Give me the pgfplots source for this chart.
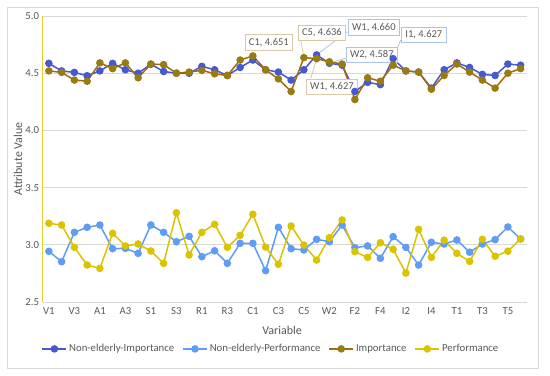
\documentclass[border=0pt]{standalone}
\usepackage{fontspec}
\setmainfont{Carlito}
\usepackage{pgfplots}
\usepackage{pgfplotstable}
\pgfplotsset{compat=1.18}
\definecolor{neimp}{HTML}{4659CF}
\definecolor{neperf}{HTML}{5E9CF5}
\definecolor{impl}{HTML}{A36A0E}
\definecolor{impm}{HTML}{9A7B10}
\definecolor{perf}{HTML}{DCC300}
\definecolor{txt}{HTML}{595959}
\definecolor{gridc}{HTML}{D9D9D9}
\definecolor{tanb}{HTML}{D9C9A8}
\definecolor{blueb}{HTML}{A9C4E8}
\definecolor{yaxis}{HTML}{E6CF2E}

\pgfplotstableread{
x  neimp  neperf imp   perf
0  4.586  2.943  4.520 3.188
1  4.520  2.852  4.507 3.173
2  4.507  3.109  4.440 2.978
3  4.478  3.153  4.430 2.823
4  4.520  3.173  4.590 2.794
5  4.586  2.966  4.540 3.100
6  4.530  2.969  4.590 2.990
7  4.500  2.925  4.460 3.007
8  4.578  3.173  4.580 2.946
9  4.515  3.109  4.575 2.838
10 4.500  3.027  4.500 3.280
11 4.500  3.074  4.510 2.911
12 4.560  2.896  4.525 3.109
13 4.530  2.948  4.495 3.179
14 4.480  2.838  4.480 2.978
15 4.550  3.013  4.615 3.083
16 4.615  3.013  4.651 3.267
17 4.530  2.774  4.530 2.980
18 4.510  3.153  4.450 2.830
19 4.440  2.966  4.340 3.164
20 4.530  2.955  4.636 2.998
21 4.660  3.048  4.627 2.867
22 4.587  3.027  4.600 3.062
23 4.570  3.173  4.580 3.217
24 4.340  2.975  4.270 2.940
25 4.420  2.990  4.460 2.890
26 4.400  2.882  4.430 3.018
27 4.627  3.071  4.570 2.960
28 4.520  2.978  4.520 2.753
29 4.510  2.823  4.510 3.135
30 4.370  3.022  4.360 2.890
31 4.530  3.007  4.480 3.040
32 4.590  3.042  4.580 2.925
33 4.550  2.935  4.510 2.855
34 4.490  3.007  4.440 3.048
35 4.480  3.045  4.370 2.900
36 4.580  3.156  4.500 2.944
37 4.570  3.051  4.540 3.051
}\datatable

\begin{document}
\begin{tikzpicture}
\useasboundingbox (0,0) rectangle (550bp,376bp);
\fill[white] (0,0) rectangle (550bp,376bp);
\draw[gridc, line width=0.8bp] (7bp,8bp) rectangle (538bp,369bp);
\begin{axis}[
  at={(42.5bp,74bp)}, anchor=south west,
  scale only axis, width=484.5bp, height=286bp,
  xmin=-0.5, xmax=37.5, ymin=2.5, ymax=5.0,
  xtick={0,2,...,36},
  xticklabels={V1,V3,A1,A3,S1,S3,R1,R3,C1,C3,C5,W2,F2,F4,I2,I4,T1,T3,T5},
  ytick={2.5,3.0,3.5,4.0,4.5,5.0},
  yticklabel style={/pgf/number format/.cd, fixed, fixed zerofill, precision=1, assume math mode=true},
  /pgf/number format/assume math mode=true,
  tick style={draw=none},
  ticklabel style={font=\fontsize{10.8}{13}\selectfont, text=txt},
  xticklabel style={yshift=-2bp},
  ymajorgrids, grid style={gridc, line width=0.8bp},
  axis line style={draw=none},
  clip=false,
  legend columns=4,
  legend style={at={(0.4716,-0.164)}, anchor=center, draw=none, fill=none,
    font=\fontsize{10.8}{13}\selectfont, text=txt,
    /tikz/every even column/.append style={column sep=6bp}},
  legend cell align=left,
  legend image code/.code={
    \draw[#1, mark repeat=2, mark phase=2] plot coordinates {(0bp,0bp) (12bp,0bp) (24bp,0bp)};
  },
  every axis plot/.append style={line width=1.5bp, mark=*, mark size=3bp},
]
\draw[yaxis, line width=1bp] (rel axis cs:0,0) -- (rel axis cs:0,1);
\addplot[color=neimp, mark options={fill=neimp, draw=neimp}] table[x=x, y=neimp] {\datatable};
\addlegendentry{Non-elderly-Importance}
\addplot[color=neperf, mark options={fill=neperf, draw=neperf}] table[x=x, y=neperf] {\datatable};
\addlegendentry{Non-elderly-Performance}
\addplot[color=impl, mark options={fill=impm, draw=impm}] table[x=x, y=imp] {\datatable};
\addlegendentry{Importance}
\addplot[color=perf, mark options={fill=perf, draw=perf}] table[x=x, y=perf] {\datatable};
\addlegendentry{Performance}

\tikzset{lbl/.style={fill=white, text=txt, font=\fontsize{10.5}{12}\selectfont, inner xsep=4bp, inner ysep=3.5bp, line width=0.8bp}}
\draw[tanb, line width=0.8bp] (axis cs:19.76,4.784) -- (axis cs:20,4.636);
\draw[blueb, line width=0.8bp] (axis cs:23.37,4.860) -- (axis cs:21,4.660);
\draw[blueb, line width=0.8bp] (axis cs:23.29,4.633) -- (axis cs:22,4.587);
\draw[blueb, line width=0.8bp] (axis cs:27.6,4.790) -- (axis cs:27,4.627);
\draw[tanb, line width=0.8bp] (axis cs:20.55,4.458) -- (axis cs:21,4.627);
\node[lbl, draw=tanb] at (axis cs:17.25,4.768) {C1, 4.651};
\node[lbl, draw=tanb] at (axis cs:21.41,4.851) {C5, 4.636};
\node[lbl, draw=blueb] at (axis cs:25.49,4.900) {W1, 4.660};
\node[lbl, draw=blueb] at (axis cs:25.33,4.659) {W2, 4.587};
\node[lbl, draw=blueb] at (axis cs:29.41,4.837) {I1, 4.627};
\node[lbl, draw=tanb] at (axis cs:22.2,4.382) {W1, 4.627};
\end{axis}
\node[text=txt, font=\fontsize{12}{14}\selectfont] at (282bp,46bp) {Variable};
\node[text=txt, font=\fontsize{12}{14}\selectfont, rotate=90] at (18bp,217bp) {Attribute Value};
\end{tikzpicture}
\end{document}
